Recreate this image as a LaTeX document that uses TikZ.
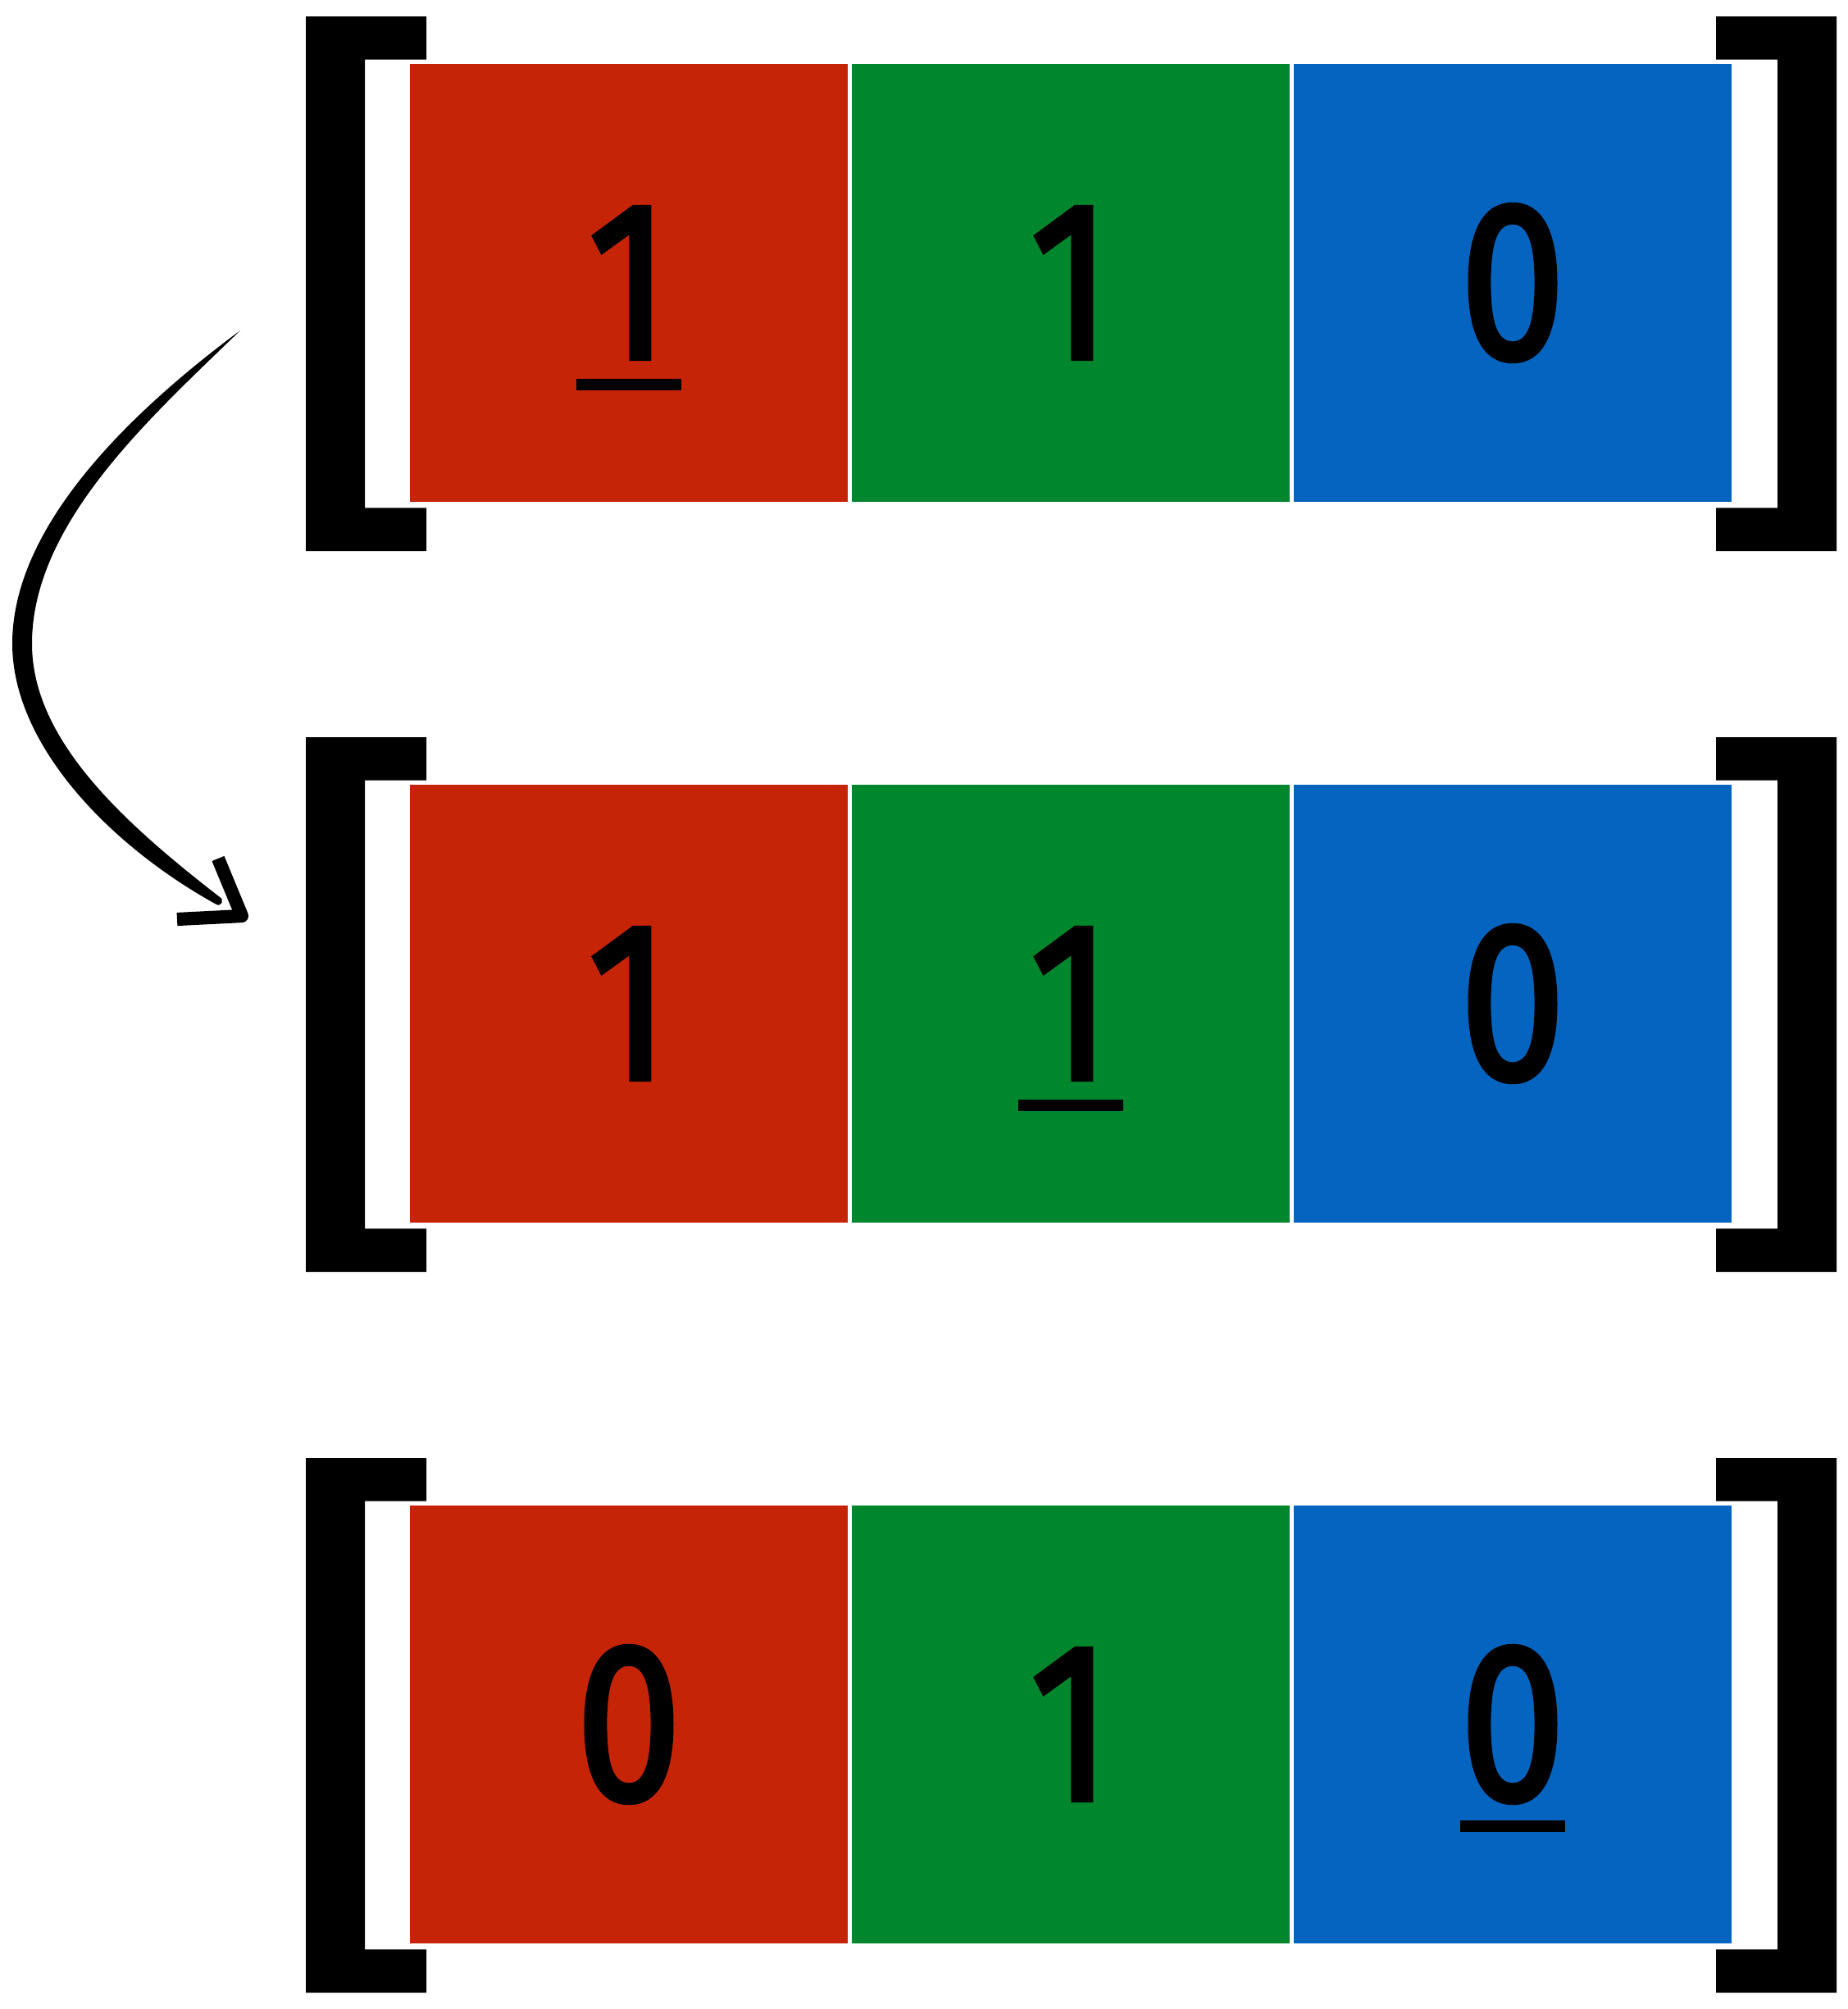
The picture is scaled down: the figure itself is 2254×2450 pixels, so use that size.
\documentclass[tikz,border=0pt]{standalone}
\usepackage{fontspec}
\setmainfont{Fira Sans}
\newfontfamily\digitfont{Fira Sans}[FakeBold=2.5]
\definecolor{cellred}{RGB}{198,36,6}
\definecolor{cellgreen}{RGB}{0,134,44}
\definecolor{cellblue}{RGB}{4,100,191}
\newcommand{\dg}[1]{\scalebox{0.84}[1]{#1}}
\begin{document}
\begin{tikzpicture}[x=0.01cm,y=-0.01cm,
  cell/.style={rectangle, inner sep=0pt, minimum width=5.34cm, minimum height=5.34cm,
    font=\digitfont\fontsize{78}{80}\selectfont, text=black},
  ulbar/.style={fill=black},
  brace/.style={fill=black},
  brush/.style={fill=black}]
\fill[white] (0,0) rectangle (2254,2450);
\useasboundingbox (0,0) rectangle (2254,2450);

% square brackets around each row
\foreach \t in {20,899,1778}{
  \fill[brace] (373,\t) -- (520,\t) -- (520,{\t+52.6}) -- (445,{\t+52.6})
    -- (445,{\t+599.4}) -- (520,{\t+599.4}) -- (520,{\t+652}) -- (373,{\t+652}) -- cycle;
  \fill[brace] (2240,\t) -- (2093,\t) -- (2093,{\t+52.6}) -- (2168,{\t+52.6})
    -- (2168,{\t+599.4}) -- (2093,{\t+599.4}) -- (2093,{\t+652}) -- (2240,{\t+652}) -- cycle;
}

% row 1
\node[cell, fill=cellred]   (r1a) at (767,345)  {\dg{1}};
\node[cell, fill=cellgreen] (r1b) at (1306,345) {\dg{1}};
\node[cell, fill=cellblue]  (r1c) at (1845,345) {\dg{0}};
% row 2
\node[cell, fill=cellred]   (r2a) at (767,1224)  {\dg{1}};
\node[cell, fill=cellgreen] (r2b) at (1306,1224) {\dg{1}};
\node[cell, fill=cellblue]  (r2c) at (1845,1224) {\dg{0}};
% row 3
\node[cell, fill=cellred]   (r3a) at (767,2103)  {\dg{0}};
\node[cell, fill=cellgreen] (r3b) at (1306,2103) {\dg{1}};
\node[cell, fill=cellblue]  (r3c) at (1845,2103) {\dg{0}};

% underline marking the current position
\foreach \c in {r1a,r2b,r3c}{
  \fill[ulbar] ([shift={(-64,117)}]\c.center) rectangle ++(128,14);
}

% hand-drawn curved arrow from row 1 to row 2 (tapered brush stroke)
\coordinate (arrowstart) at (293,403);
\coordinate (arrowtip) at (295,1117);
\fill[brush] (arrowstart) .. controls (172,493) and (15,635) .. (15,785)
  .. controls (15,907) and (132,1030) .. (264,1103)
  .. controls (270,1106) and (274,1097) .. (268,1094)
  .. controls (152,1004) and (39,903) .. (39,785)
  .. controls (39,637) and (186,507) .. (arrowstart) -- cycle;
\draw[line width=4.6pt, line join=round] (266,1047) -- (arrowtip) -- (216,1121);
\end{tikzpicture}
\end{document}
